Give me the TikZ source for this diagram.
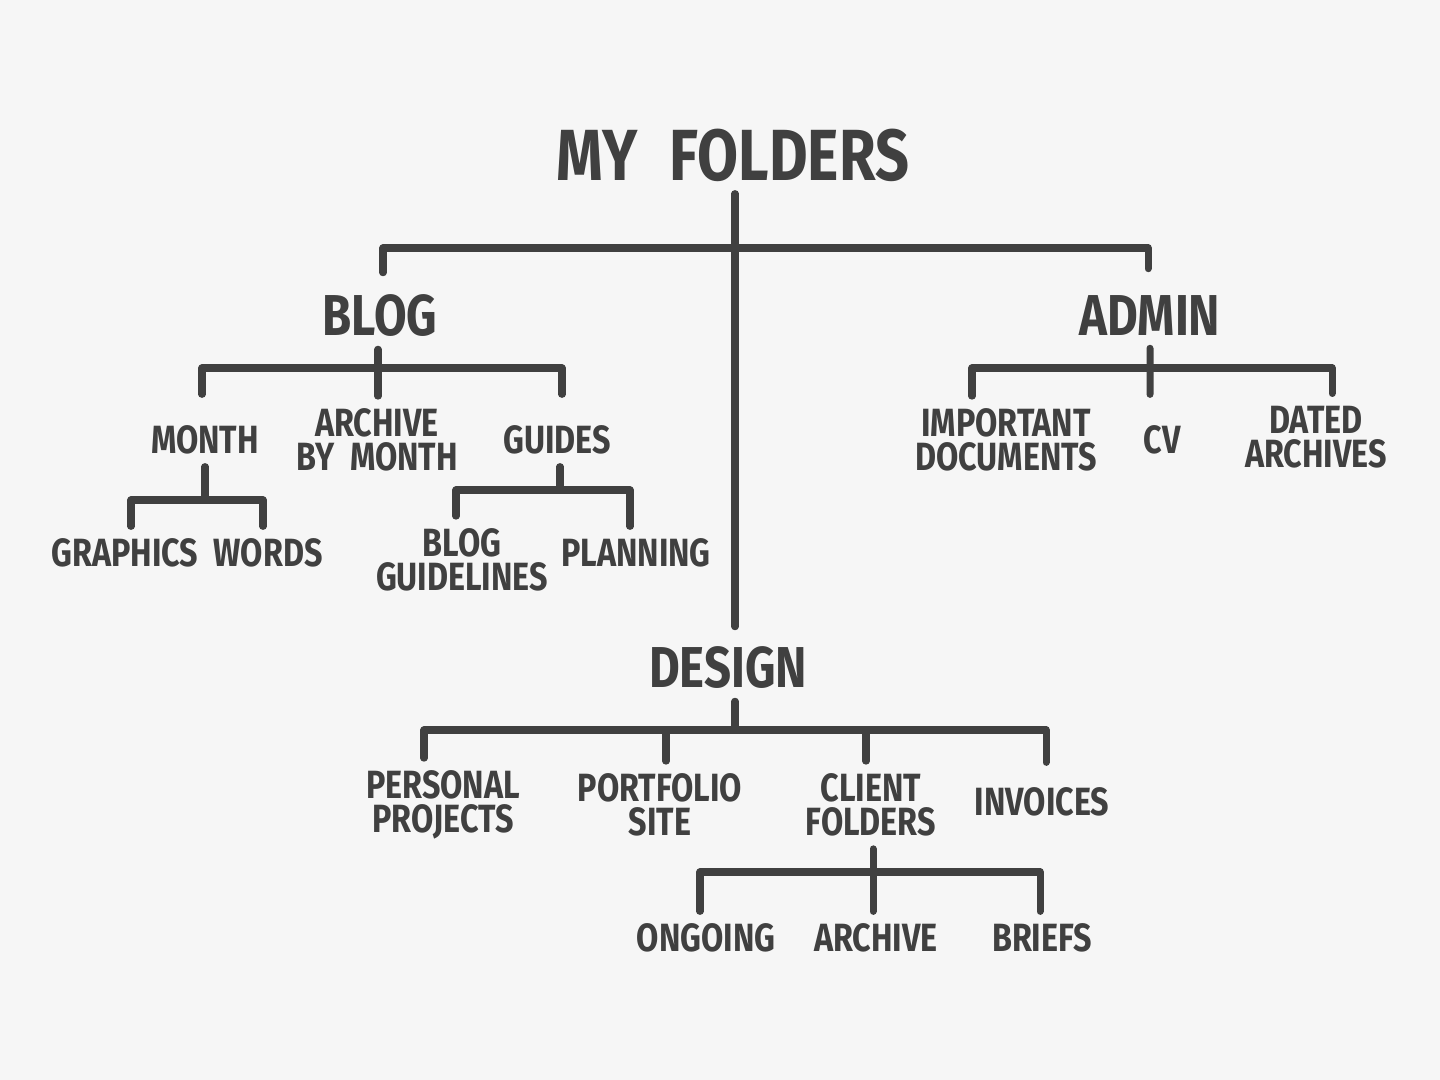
\documentclass[tikz,border=0pt]{standalone}
\usepackage{fontspec}
\newfontfamily\handfont{Fira Sans}[FakeStretch=0.82]
\definecolor{ink}{HTML}{404040}
\definecolor{paper}{HTML}{F6F6F6}
\tikzset{
  branch/.style={draw=ink,line width=2pt,line cap=round,line join=round},
  leaf/.style={text=ink,align=center,inner sep=0pt,outer sep=3.5pt,
    font=\handfont\bfseries\fontsize{11.2}{9.8}\selectfont},
  folder/.style={leaf,font=\handfont\bfseries\fontsize{16.4}{18}\selectfont},
  heading/.style={leaf,font=\handfont\bfseries\fontsize{20.6}{22}\selectfont}
}
\begin{document}
\begin{tikzpicture}[x=0.01cm,y=-0.01cm]
                \fill[paper] (0,0) rectangle (1440,1080);

                % titles
                \node[heading] (root) at(733,155) {MY\hspace{0.45em}FOLDERS};
                \node[folder] (blog) at(380,316) {BLOG};
                \node[folder] (admin) at(1150,316) {ADMIN};
                \node[folder] (design) at(728,668) {DESIGN};

                % blog
                \node[leaf] (month) at(205,440) {MONTH};
                \node[leaf] (archive) at(377,440) {ARCHIVE\\BY\hspace{0.4em}MONTH};
                \node[leaf] (guides) at(557,440) {GUIDES};
                \node[leaf] (graphics) at(125,553) {GRAPHICS};
                \node[leaf] (words) at(268,553) {WORDS};
                \node[leaf] (guidelines) at(462,560) {BLOG\\GUIDELINES};
                \node[leaf] (planning) at(636,553) {PLANNING};

                % admin
                \node[leaf] (important) at(1006,440) {IMPORTANT\\DOCUMENTS};
                \node[leaf] (cv) at(1162,440) {CV};
                \node[leaf] (dated) at(1316,437) {DATED\\ARCHIVES};

                % design
                \node[leaf] (personal) at(443,805) {PERSONAL\\PROJECTS};
                \node[leaf] (portfolio) at(660,805) {PORTFOLIO\\SITE};
                \node[leaf] (client) at(871,805) {CLIENT\\FOLDERS};
                \node[leaf] (invoices) at(1042,802) {INVOICES};
                \node[leaf] (ongoing) at(706,938) {ONGOING};
                \node[leaf] (clientarchive) at(876,938) {ARCHIVE};
                \node[leaf] (briefs) at(1042,938) {BRIEFS};

                \coordinate (topbar) at(735,248);
                \coordinate (blogbar) at(378,368);
                \coordinate (monthbar) at(205,500);
                \coordinate (guidebar) at(560,490);
                \coordinate (adminbar) at(1150,368);
                \coordinate (designbar) at(735,730);
                \coordinate (clientbar) at(873,872);

                % trunk
                \draw[branch,shorten >=0.08cm] (root.south -| topbar) -- (design.north -| topbar);
                \draw[branch,shorten <=0.1cm,shorten >=0.15cm] ([xshift=0.03cm]blog.north) |- (topbar) -| ([xshift=-0.02cm]admin.north);

                % blog
                \draw[branch] (blog.south -| blogbar) -- (archive.north -| blogbar);
                \draw[branch,shorten <=0.19cm,shorten >=0.19cm] ([xshift=-0.03cm]month.north) |- (blogbar) -| ([xshift=0.05cm]guides.north);
                \draw[branch] (month.south) -- (monthbar);
                \draw[branch] ([xshift=0.06cm]graphics.north) |- (monthbar) -| ([xshift=-0.05cm]words.north);
                \draw[branch] (guides.south -| guidebar) -- (guidebar);
                \draw[branch] ([xshift=-0.06cm]guidelines.north) |- (guidebar) -| ([xshift=-0.06cm]planning.north);

                % admin
                \draw[branch,shorten >=0.19cm] (admin.south -| adminbar) -- ([xshift=-0.12cm]cv.north);
                \draw[branch] ([xshift=-0.34cm]important.north) |- (adminbar) -| ([xshift=0.16cm]dated.north);

                % design
                \draw[branch] (design.south -| designbar) -- (designbar);
                \draw[branch,shorten >=0.13cm] ([xshift=-0.19cm]personal.north) |- (designbar) -| ([xshift=0.04cm]invoices.north);
                \draw[branch] ([xshift=0.06cm]portfolio.north) -- ([xshift=0.06cm]portfolio.north |- designbar);
                \draw[branch] ([xshift=-0.05cm]client.north) -- ([xshift=-0.05cm]client.north |- designbar);

                % client folders
                \draw[branch] (client.south -| clientbar) -- (clientarchive.north -| clientbar);
                \draw[branch] ([xshift=-0.06cm]ongoing.north) |- (clientbar) -| ([xshift=-0.02cm]briefs.north);
            \end{tikzpicture}
\end{document}
